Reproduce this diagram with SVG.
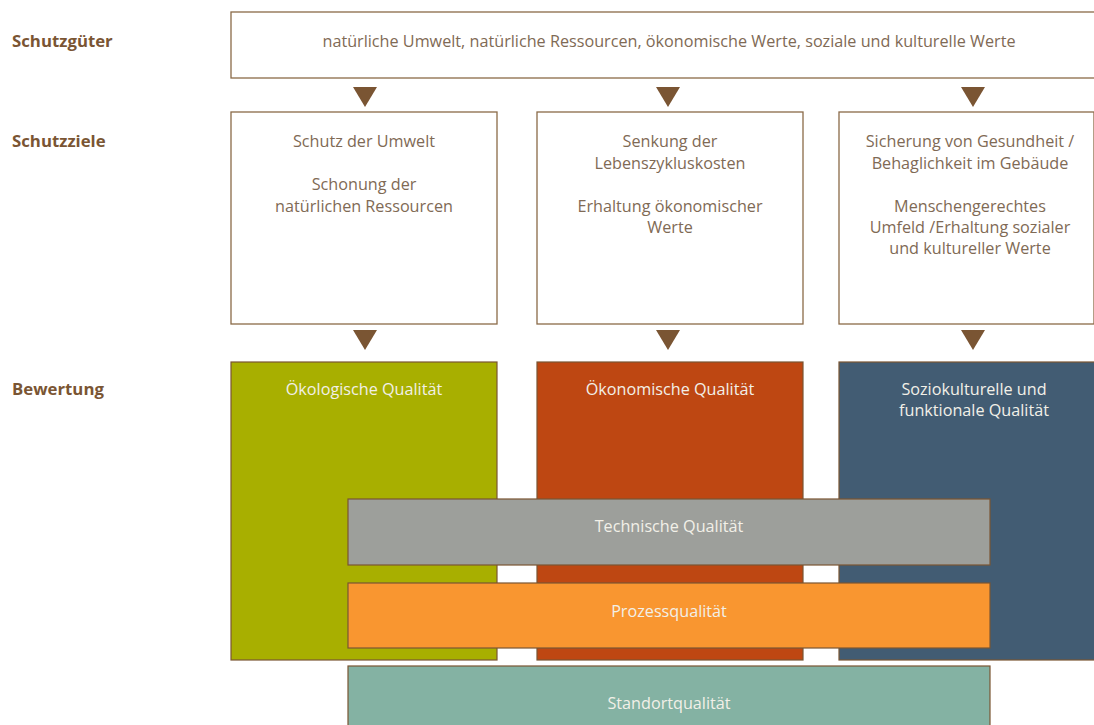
<svg xmlns="http://www.w3.org/2000/svg" width="1094" height="725" viewBox="0 0 1094 725">
<style>
.lbl{font-family:"Open Sans","Liberation Sans",sans-serif;font-weight:bold;font-size:16.8px;fill:#7A5533}
.t{font-family:"Open Sans","Liberation Sans",sans-serif;font-size:16.2px;fill:#7F6A55;text-anchor:middle}
.w{font-family:"Open Sans","Liberation Sans",sans-serif;font-size:16.2px;fill:#F2F0E8;text-anchor:middle}
.box{fill:#fff;stroke:#8A6A48;stroke-width:1.3}
.q{stroke:#7A5533;stroke-width:1.2}
.arr{fill:#7A5533}
</style>
<rect width="1094" height="725" fill="#fff"/>
<g id="labels">
<text class="lbl" x="12" y="47">Schutzgüter</text>
<text class="lbl" x="12" y="147">Schutzziele</text>
<text class="lbl" x="12" y="395">Bewertung</text>
</g>
<g id="schutzgueter">
<rect class="box" x="231" y="12" width="870" height="66"/>
<text class="t" x="669" y="47">natürliche Umwelt, natürliche Ressourcen, ökonomische Werte, soziale und kulturelle Werte</text>
</g>
<g id="connectors">
<polygon class="arr" points="353,87 377,87 365,107"/>
<polygon class="arr" points="656,87 680,87 668,107"/>
<polygon class="arr" points="961,87 985,87 973,107"/>
<polygon class="arr" points="353,330 377,330 365,350"/>
<polygon class="arr" points="656,330 680,330 668,350"/>
<polygon class="arr" points="961,330 985,330 973,350"/>
</g>
<g id="ziel1">
<rect class="box" x="231" y="112" width="266" height="212"/>
<text class="t" x="364" y="147">Schutz der Umwelt</text>
<text class="t" x="364" y="190">Schonung der</text>
<text class="t" x="364" y="212">natürlichen Ressourcen</text>
</g>
<g id="ziel2">
<rect class="box" x="537" y="112" width="266" height="212"/>
<text class="t" x="670" y="147">Senkung der</text>
<text class="t" x="670" y="169">Lebenszykluskosten</text>
<text class="t" x="670" y="212">Erhaltung ökonomischer</text>
<text class="t" x="670" y="233">Werte</text>
</g>
<g id="ziel3">
<rect class="box" x="839" y="112" width="255" height="212"/>
<text class="t" x="970" y="147">Sicherung von Gesundheit /</text>
<text class="t" x="970" y="169">Behaglichkeit im Gebäude</text>
<text class="t" x="970" y="212">Menschengerechtes</text>
<text class="t" x="970" y="233">Umfeld /Erhaltung sozialer</text>
<text class="t" x="970" y="254">und kultureller Werte</text>
</g>
<g id="oekologisch">
<rect class="q" x="231" y="362" width="266" height="298" fill="#A8AF00"/>
<text class="w" x="364" y="395">Ökologische Qualität</text>
</g>
<g id="oekonomisch">
<rect class="q" x="537" y="362" width="266" height="298" fill="#BE4712"/>
<text class="w" x="670" y="395">Ökonomische Qualität</text>
</g>
<g id="soziokulturell">
<rect class="q" x="839" y="362" width="258" height="298" fill="#425C73"/>
<text class="w" x="974" y="395">Soziokulturelle und</text>
<text class="w" x="974" y="416">funktionale Qualität</text>
</g>
<g id="technisch">
<rect class="q" x="348" y="499" width="642" height="66" fill="#9D9F9B"/>
<text class="w" x="669" y="532">Technische Qualität</text>
</g>
<g id="prozess">
<rect class="q" x="348" y="583" width="642" height="65" fill="#F99630"/>
<text class="w" x="669" y="617">Prozessqualität</text>
</g>
<g id="standort">
<rect class="q" x="348" y="666" width="642" height="70" fill="#84B2A3"/>
<text class="w" x="669" y="709">Standortqualität</text>
</g>
</svg>
